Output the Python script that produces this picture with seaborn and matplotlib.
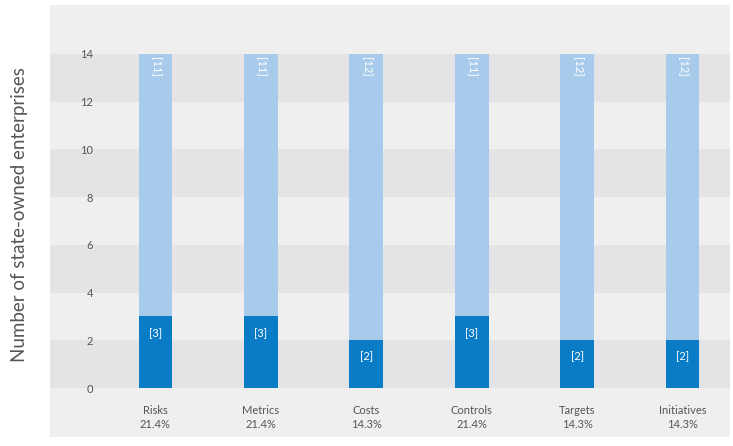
import matplotlib
matplotlib.use("Agg")
import matplotlib.pyplot as plt
import seaborn as sns
import pandas as pd
import numpy as np

categories = ['Risks', 'Metrics', 'Costs', 'Controls', 'Targets', 'Initiatives']
shares = ['21.4%', '21.4%', '14.3%', '21.4%', '14.3%', '14.3%']
disclosed = [3, 3, 2, 3, 2, 2]
not_disclosed = [11, 11, 12, 11, 12, 12]

df = pd.DataFrame({
    'category': categories,
    'disclosed': disclosed,
    'not_disclosed': not_disclosed,
})
df['total'] = df['disclosed'] + df['not_disclosed']

dark_blue = '#0a7cc5'
light_blue = '#a9cbeb'
panel = '#efefef'
band = '#e4e4e6'
text_gray = '#555555'

sns.set_style('white')
plt.rcParams['font.family'] = ['Lato', 'DejaVu Sans']

fig = plt.figure(figsize=(7.33, 4.46), dpi=100)
fig.patch.set_facecolor('white')
ax = fig.add_axes([50 / 733, 9 / 446, 680 / 733, 432 / 446])
ax.set_facecolor(panel)

# alternating horizontal bands
for lo in range(0, 14, 4):
    ax.axhspan(lo, lo + 2, color=band, zorder=0, lw=0)
ax.axhspan(12, 14, color=band, zorder=0, lw=0)

sns.barplot(data=df, x='category', y='total', color=light_blue, width=0.32,
            saturation=1, linewidth=0, ax=ax, zorder=2)
sns.barplot(data=df, x='category', y='disclosed', color=dark_blue, width=0.32,
            saturation=1, linewidth=0, ax=ax, zorder=3)

for i, row in df.iterrows():
    ax.text(i, row['disclosed'] - 0.7, f"[{row['disclosed']}]", ha='center', va='center',
            color='white', fontsize=8, zorder=4)
    ax.text(i, row['total'] - 0.55, f"[{row['not_disclosed']}]", ha='center', va='center',
            color='white', fontsize=8, rotation=270, zorder=4)

ax.set_xlim(-1.0, 5.45)
ax.set_ylim(-2.05, 16.05)
ax.set_yticks(np.arange(0, 15, 2))
ax.set_xticks(range(len(categories)))
ax.set_xticklabels([f"{c}\n{s}" for c, s in zip(categories, shares)],
                   fontsize=8, color=text_gray, linespacing=1.3)
ax.tick_params(axis='y', length=0, pad=-31, labelsize=8, labelcolor=text_gray)
ax.tick_params(axis='x', length=0, pad=-23, labelsize=8, labelcolor=text_gray)
for t in ax.get_yticklabels():
    t.set_horizontalalignment('right')
ax.set_xlabel('')
ax.set_ylabel('')
for s in ax.spines.values():
    s.set_visible(False)

fig.text(20 / 733, 1 - 215 / 446, 'Number of state-owned enterprises', rotation=90,
         ha='center', va='center', fontsize=13.5, color=text_gray)

fig.savefig('out.png', dpi=100, facecolor='white')
